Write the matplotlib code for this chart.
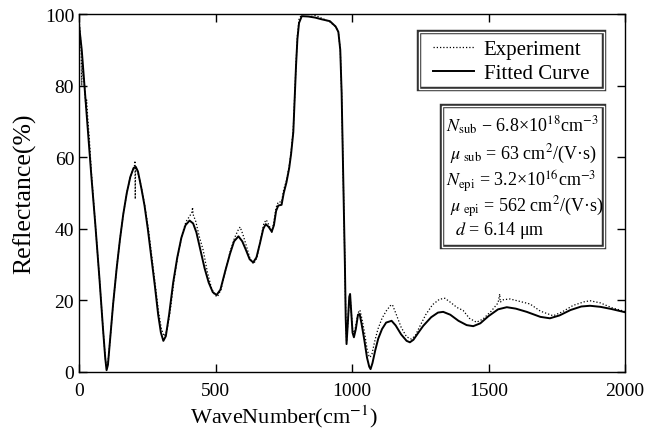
import numpy as np
import matplotlib
matplotlib.use("Agg")
import matplotlib.pyplot as plt
from matplotlib.patches import Rectangle
from matplotlib.lines import Line2D

plt.rcParams['font.family'] = ['Liberation Serif', 'DejaVu Serif']
plt.rcParams['mathtext.fontset'] = 'stix'

# fitted curve
fit_wn = [0, 10, 20, 30, 45, 60, 75, 88, 96, 101, 106, 115, 125, 138, 150, 162, 175, 188,
          200, 208, 216, 228, 240, 252, 265, 278, 290, 300, 309, 318, 330, 345, 360, 375,
          390, 405, 418, 430, 445, 460, 475, 490, 504, 518, 535, 553, 568, 584, 598, 612,
          625, 638, 650, 663, 675, 684, 695, 706, 714, 722, 730, 742, 750, 760, 770, 777,
          785, 790, 795, 800, 806, 816, 840, 865, 890, 919, 940, 950, 957, 962, 966, 970,
          974, 977, 980, 985, 990, 993, 997, 1002, 1007, 1014, 1022, 1028, 1035, 1045,
          1055, 1063, 1068, 1075, 1085, 1096, 1110, 1125, 1145, 1160, 1180, 1200, 1212,
          1225, 1245, 1261, 1290, 1315, 1334, 1360, 1390, 1420, 1444, 1470, 1500, 1535,
          1567, 1600, 1640, 1690, 1725, 1760, 1800, 1840, 1872, 1910, 1950, 2000]
fit_r = [97, 90, 80, 70, 55, 41, 26, 12, 4, 0.5, 2, 10, 19, 29, 37, 44, 50, 54.5,
         57, 57.3, 56, 51.5, 46.5, 40, 32, 24, 16, 11, 8.7, 10, 16, 25, 32, 37.5,
         41, 42.3, 41.5, 39, 34, 29, 25, 22.3, 21.5, 23, 28, 33, 36.5, 37.9, 36.5, 34,
         31.5, 30.6, 32, 36, 40, 41.3, 40.5, 39.2, 41, 45, 46.5, 46.7, 50, 53, 57, 61,
         67, 76, 85.6, 93, 97.5, 99.4, 99.3, 99, 98.5, 98, 96.5, 95, 90, 78, 62, 45,
         30, 15, 7.8, 14, 21, 21.8, 17, 11, 9.7, 12, 16, 16.2, 13.5, 9,
         4, 1.5, 0.8, 2.5, 6, 9.3, 12, 13.8, 14.3, 13, 10.5, 8.7, 8.3,
         9, 11.2, 12.9, 15.3, 16.6, 16.8, 16, 14.3, 13.1, 12.8, 13.6, 15.6, 17.5,
         18.1, 17.7, 16.8, 15.4, 15, 15.8, 17.3, 18.3, 18.5, 18.2, 17.6, 16.7]

# experiment
exp_wn = [0, 4, 8, 10, 12, 16, 20, 25, 28, 32, 38, 45, 60, 75, 88, 96, 101, 106, 115, 125,
          138, 150, 162, 175, 188, 198, 203, 205, 206, 207, 212, 220, 230, 242, 255, 268,
          280, 292, 302, 312, 322, 334, 348, 362, 378, 392, 405, 413, 416, 418, 428, 440,
          455, 470, 485, 497, 507, 520, 537, 555, 570, 582, 590, 600, 614, 627, 640, 652,
          665, 677, 686, 696, 706, 714, 722, 730, 742, 750, 760, 770, 777, 785, 790, 795,
          800, 806, 816, 840, 865, 890, 919, 940, 950, 957, 962, 966, 970, 974, 977, 980,
          985, 990, 993, 997, 1002, 1007, 1014, 1022, 1029, 1036, 1046, 1055, 1062, 1066,
          1073, 1083, 1095, 1110, 1125, 1140, 1148, 1160, 1180, 1200, 1218, 1232, 1250,
          1270, 1295, 1320, 1340, 1360, 1385, 1407, 1430, 1456, 1480, 1510, 1535, 1541,
          1543, 1555, 1579, 1610, 1652, 1690, 1737, 1770, 1810, 1850, 1872, 1910, 1950, 2000]
exp_r = [99, 95, 90, 80, 87, 83, 80, 74, 76, 71, 65, 56, 41, 26, 12, 4, 1, 2.5, 10, 19,
         29, 37, 44, 50, 54.5, 56.5, 57.5, 59, 48.3, 57, 56.5, 54.5, 51, 46, 39.5, 31.5,
         24, 16.5, 12, 10, 11.5, 17, 25.5, 32.5, 38.5, 42, 43.5, 44.5, 46, 44, 42, 38,
         34, 28, 23.5, 21.5, 21, 23, 28.5, 34, 37.5, 39.5, 40.5, 38.5, 35, 31.5, 30.2, 32,
         37, 41.5, 42.5, 41, 39, 42, 46, 47.5, 47.5, 51, 53.5, 57.5, 61.5, 68, 77, 86,
         94, 98.5, 100, 100, 99.6, 98.8, 97.8, 96.5, 95, 90, 78, 62, 45, 30, 16, 8.5,
         14, 20.5, 21, 17, 12, 10.5, 13, 16.5, 17.3, 15, 11, 6.5, 4.5, 4.1,
         5, 8.5, 12, 15, 17, 18.5, 18.8, 16.5, 12.5, 9.8, 9.2, 10.2, 13,
         16, 18.8, 20.3, 20.6, 19.5, 18, 17.2, 15, 13.9, 14.8, 17, 19.3, 21.8,
         19.5, 20.2, 20.4, 19.8, 19, 17, 15.7, 16.8, 18.6, 19.6, 19.9, 19.3, 18, 16.9]

param_lines = ['$N_{\\rm sub}$ − 6.8×10$^{18}$cm$^{-3}$',
               ' $\\mu_{\\ \\rm sub}$ = 63 cm$^{2}$/(V·s)',
               '$N_{\\rm epi}$ = 3.2×10$^{16}$cm$^{-3}$',
               ' $\\mu_{\\ \\rm epi}$ = 562 cm$^{2}$/(V·s)',
               '  $d$ = 6.14 μm']

fig = plt.figure(figsize=(6.53, 4.35), dpi=100)
ax = fig.add_axes([79/653, 62/435, 546/653, 358/435])

ax.plot(exp_wn, exp_r, color='black', lw=0.9, linestyle=(0, (1, 1.6)))
ax.plot(fit_wn, fit_r, color='black', lw=1.4)

ax.set_xlim(0, 2000)
ax.set_ylim(0, 100)
ax.set_xticks([0, 500, 1000, 1500, 2000])
ax.set_yticks([0, 20, 40, 60, 80, 100])
ax.tick_params(direction='in', top=True, right=True, length=6, width=1, labelsize=14)
ax.tick_params(axis='x', pad=7)
for s in ax.spines.values():
    s.set_linewidth(1.0)

ax.set_xlabel(r'WaveNumber(cm$^{-1}$)', fontsize=16)
ax.xaxis.set_label_coords((284 - 79) / 546, -0.085)
ax.set_ylabel('Reflectance(%)', fontsize=18.5, labelpad=6)


def double_box(x0, y0, x1, y1):
    for lw, c in [(3.2, '#333333'), (1.0, 'white')]:
        ax.add_patch(Rectangle((x0, y0), x1 - x0, y1 - y0, transform=ax.transAxes,
                               fill=False, edgecolor=c, lw=lw, zorder=5))
    ax.add_patch(Rectangle((x0, y0), x1 - x0, y1 - y0, transform=ax.transAxes,
                           facecolor='white', edgecolor='none', zorder=4))


double_box(0.623, 0.7905, 0.9615, 0.950)
double_box(0.665, 0.349, 0.9615, 0.743)

handles = [Line2D([], [], color='black', lw=0.9, linestyle=(0, (1, 1.6))),
           Line2D([], [], color='black', lw=1.4)]
leg = ax.legend(handles, ['Experiment', 'Fitted Curve'], frameon=False, fontsize=15,
                loc='upper left', bbox_to_anchor=(0.617, 0.975), handlelength=2.0,
                handletextpad=0.45, labelspacing=0.2, borderpad=0.3)
leg.set_zorder(6)

ys_px = [126, 154, 181, 207, 231]
for t, yp in zip(param_lines, ys_px):
    ax.text((446 - 79) / 546, (373 - yp) / 358, t, transform=ax.transAxes,
            fontsize=13, va='center', ha='left', zorder=7)

fig.savefig('out.png', dpi=100)
